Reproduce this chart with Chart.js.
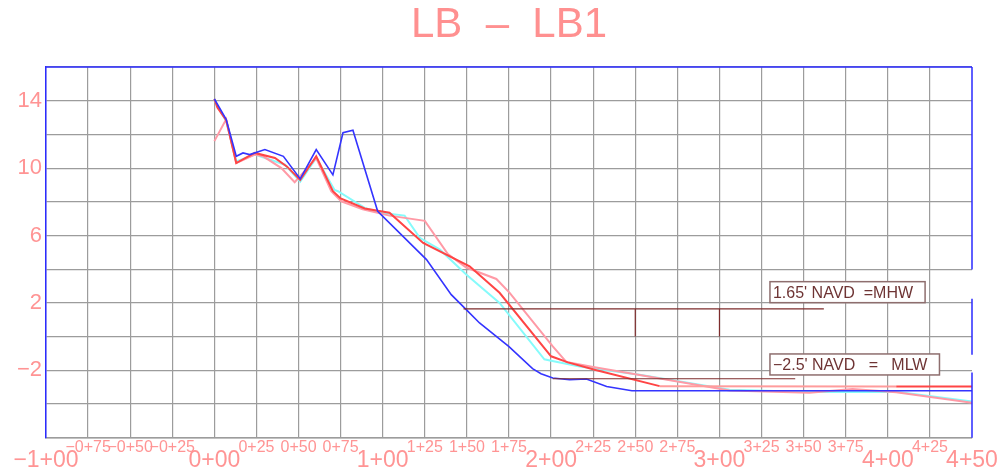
<!DOCTYPE html>
<html>
<head>
<meta charset="utf-8">
<script src="https://cdn.jsdelivr.net/npm/chart.js@4/dist/chart.umd.min.js"></script>
<style>
  html, body { margin: 0; padding: 0; background: #ffffff; overflow: hidden; }
  #wrap { width: 1002px; height: 471px; position: relative; }
</style>
</head>
<body>
<div id="wrap"><canvas id="profile"></canvas></div>
<script>
// Cross-section LB1: station (ft) vs elevation (ft NAVD) for each survey line
const blueSta  = [0, 7, 13, 17, 21, 30, 41, 51, 60.5, 70.4, 76.4, 82.3, 97, 126, 140.7, 149.6, 157.5, 175, 189, 194, 201, 211, 221, 233, 248, 450];
const blueElev = [14.1, 12.9, 10.7, 10.9, 10.8, 11.1, 10.7, 9.36, 11.1, 9.6, 12.1, 12.25, 7.44, 4.57, 2.49, 1.6, 0.81, -0.6, -1.9, -2.2, -2.46, -2.56, -2.52, -2.96, -3.21, -3.21];

const cyanSta  = [0, 1.2, 7, 13, 24, 42, 51, 60.5, 71.4, 73.4, 89.3, 99, 113, 122, 134, 149.6, 169.4, 196, 200, 217, 252.6, 306, 353.5, 405, 450];
const cyanElev = [14.1, 13.8, 12.8, 10.4, 10.8, 10.2, 9.2, 10.6, 8.7, 8.63, 7.64, 7.35, 7.18, 5.86, 5.16, 3.68, 2.0, -1.35, -1.43, -1.77, -2.26, -3.15, -3.29, -3.28, -3.85];

const pinkSta  = [0, 7, 13, 24, 29, 39.8, 47.7, 60.5, 69.4, 75.4, 88.1, 104, 125, 138.7, 149.6, 167.5, 175.4, 201, 209, 225, 246.6, 306, 353.5, 379, 405, 450];
const pinkElev = [11.6, 12.9, 10.3, 10.8, 10.7, 10.0, 9.16, 10.6, 8.63, 8.03, 7.56, 7.18, 6.87, 4.9, 4.1, 3.42, 2.6, -0.58, -1.5, -1.8, -2.17, -3.2, -3.33, -3.11, -3.3, -3.92];

const redSta   = [0, 1.8, 7, 13, 24, 36, 43, 51, 60.5, 70.4, 75, 89.3, 104, 124, 151.6, 169.4, 200, 210, 227, 264.5, 405, 450];
const redElev  = [14.1, 13.6, 12.85, 10.3, 10.9, 10.6, 10.1, 9.3, 10.7, 8.63, 8.2, 7.6, 7.35, 5.56, 4.17, 2.6, -1.17, -1.53, -2.0, -2.94, -2.96, -2.96];

// Axis tick labels
const xMinorStations = [-75, -50, -25, 25, 50, 75, 125, 150, 175, 225, 250, 275, 325, 350, 375, 425];
const xMinorLabels   = ['−0+75', '−0+50', '−0+25', '0+25', '0+50', '0+75', '1+25', '1+50', '1+75', '2+25', '2+50', '2+75', '3+25', '3+50', '3+75', '4+25'];
const xMajorStations = [-100, 0, 100, 200, 300, 400, 450];
const xMajorLabels   = ['−1+00', '0+00', '1+00', '2+00', '3+00', '4+00', '4+50'];
const yTickValues    = [14, 10, 6, 2, -2];
const yTickLabels    = ['14', '10', '6', '2', '−2'];

// Tidal datums
const mhwElev = 1.65, mhwFrom = 148, mhwTo = 362, mhwDrops = [250, 300];
const mlwElev = -2.5, mlwFrom = 201, mlwTo = 345;
const mhwText = "1.65' NAVD  =MHW";
const mlwText = "−2.5' NAVD   =   MLW";

const LABEL_COLOR = '#ff9494';
const GRID_COLOR = '#9c9c9c';
const FRAME_BLUE = '#2b2bff';
const DATUM_COLOR = '#7d2c2c';

function pts(xs, ys) { return xs.map((x, i) => ({ x: x, y: ys[i] })); }
function lookup(keys, labels, v) {
  const i = keys.indexOf(Math.round(v));
  return i < 0 ? '' : labels[i];
}

// Frame, datum lines and their callout boxes
const profileDecor = {
  id: 'profileDecor',
  afterDatasetsDraw(chart) {
    const ctx = chart.ctx, xs = chart.scales.x, ys = chart.scales.y, a = chart.chartArea;
    ctx.save();

    // datum lines
    ctx.strokeStyle = DATUM_COLOR;
    ctx.lineWidth = 1.2;
    ctx.beginPath();
    ctx.moveTo(xs.getPixelForValue(mhwFrom), ys.getPixelForValue(mhwElev));
    ctx.lineTo(xs.getPixelForValue(mhwTo), ys.getPixelForValue(mhwElev));
    mhwDrops.forEach(s => {
      ctx.moveTo(xs.getPixelForValue(s), ys.getPixelForValue(mhwElev));
      ctx.lineTo(xs.getPixelForValue(s), ys.getPixelForValue(0));
    });
    ctx.moveTo(xs.getPixelForValue(mlwFrom), ys.getPixelForValue(mlwElev));
    ctx.lineTo(xs.getPixelForValue(mlwTo), ys.getPixelForValue(mlwElev));
    ctx.stroke();

    // callout boxes
    ctx.font = '16px "Liberation Sans", Arial, sans-serif';
    ctx.textBaseline = 'middle';
    ctx.textAlign = 'left';
    [[mhwText, 330, 3.26], [mlwText, 330, -1.03]].forEach(([t, s, e]) => {
      const bx = xs.getPixelForValue(s), by = ys.getPixelForValue(e);
      const w = ctx.measureText(t).width + 15, h = 21;
      ctx.fillStyle = '#ffffff';
      ctx.fillRect(bx, by, w, h);
      ctx.strokeStyle = '#8e6e6e';
      ctx.lineWidth = 1.5;
      ctx.strokeRect(bx, by, w, h);
      ctx.fillStyle = '#6e3434';
      ctx.fillText(t, bx + 3, by + h / 2 + 1);
    });

    // blue frame: top edge and right edge (interrupted beside the callouts)
    ctx.strokeStyle = FRAME_BLUE;
    ctx.lineWidth = 1.5;
    ctx.beginPath();
    ctx.moveTo(a.left, a.top);
    ctx.lineTo(a.right, a.top);
    const gaps = [[3.98, 2.25], [-1.07, -2.13]];
    let yStart = a.top;
    gaps.forEach(([hi, lo]) => {
      ctx.moveTo(a.right, yStart);
      ctx.lineTo(a.right, ys.getPixelForValue(hi));
      yStart = ys.getPixelForValue(lo);
    });
    ctx.moveTo(a.right, yStart);
    ctx.lineTo(a.right, a.bottom);
    ctx.stroke();
    ctx.restore();
  }
};

const lineStyle = (color, width) => ({
  borderColor: color, borderWidth: width, pointRadius: 0, tension: 0, fill: false
});

new Chart(document.getElementById('profile'), {
  type: 'line',
  data: {
    datasets: [
      Object.assign({ label: 'Cyan', data: pts(cyanSta, cyanElev), order: 4 }, lineStyle('#86fbfb', 2)),
      Object.assign({ label: 'Pink', data: pts(pinkSta, pinkElev), order: 3 }, lineStyle('#ff9aa6', 2)),
      Object.assign({ label: 'Red', data: pts(redSta, redElev), order: 2,
        segment: { borderColor: c => (c.p0.parsed.x >= 264 && c.p1.parsed.x <= 406) ? '#ff9c9c' : '#ff4545' }
      }, lineStyle('#ff4545', 2)),
      Object.assign({ label: 'Blue', data: pts(blueSta, blueElev), order: 1 }, lineStyle('#3434ff', 1.6))
    ]
  },
  options: {
    responsive: true,
    maintainAspectRatio: false,
    animation: false,
    devicePixelRatio: 1,
    layout: { padding: { left: 0, right: 30, top: 0, bottom: 0 } },
    plugins: {
      legend: { display: false },
      tooltip: { enabled: false },
      title: {
        display: true,
        fullSize: false,
        text: 'LB  –  LB1',
        color: '#ff9090',
        font: { family: '"Liberation Sans", Arial, sans-serif', size: 42, weight: 'normal' },
        padding: { top: 0, bottom: 16.6 }
      }
    },
    scales: {
      x: {
        type: 'linear', position: 'bottom', min: -100, max: 450,
        ticks: {
          stepSize: 25, autoSkip: false, minRotation: 0, maxRotation: 0, padding: 0.5,
          color: LABEL_COLOR,
          font: { family: '"Liberation Sans", Arial, sans-serif', size: 16 },
          callback: v => lookup(xMinorStations, xMinorLabels, v)
        },
        grid: {
          color: c => (c.tick && Math.round(c.tick.value) === 450) ? 'rgba(0,0,0,0)' : GRID_COLOR,
          lineWidth: 1.2, drawTicks: false
        },
        border: { color: GRID_COLOR, width: 1.5 },
        afterFit: s => { s.height = 18; }
      },
      x2: {
        type: 'linear', position: 'bottom', min: -100, max: 450,
        ticks: {
          stepSize: 25, autoSkip: false, minRotation: 0, maxRotation: 0,
          mirror: true, padding: -18.6,
          color: LABEL_COLOR,
          font: { family: '"Liberation Sans", Arial, sans-serif', size: 23 },
          callback: v => lookup(xMajorStations, xMajorLabels, v)
        },
        grid: { display: false, drawTicks: false },
        border: { display: false },
        afterFit: s => { s.height = 15.3; }
      },
      y: {
        type: 'linear', min: -6, max: 16,
        ticks: {
          stepSize: 2, autoSkip: false, padding: 4,
          color: LABEL_COLOR,
          font: { family: '"Liberation Sans", Arial, sans-serif', size: 22 },
          callback: v => lookup(yTickValues, yTickLabels, v)
        },
        grid: { color: GRID_COLOR, lineWidth: 1.2, drawTicks: false },
        border: { color: FRAME_BLUE, width: 1.5 },
        afterFit: s => { s.width = 46; }
      }
    }
  },
  plugins: [profileDecor]
});
</script>
</body>
</html>
